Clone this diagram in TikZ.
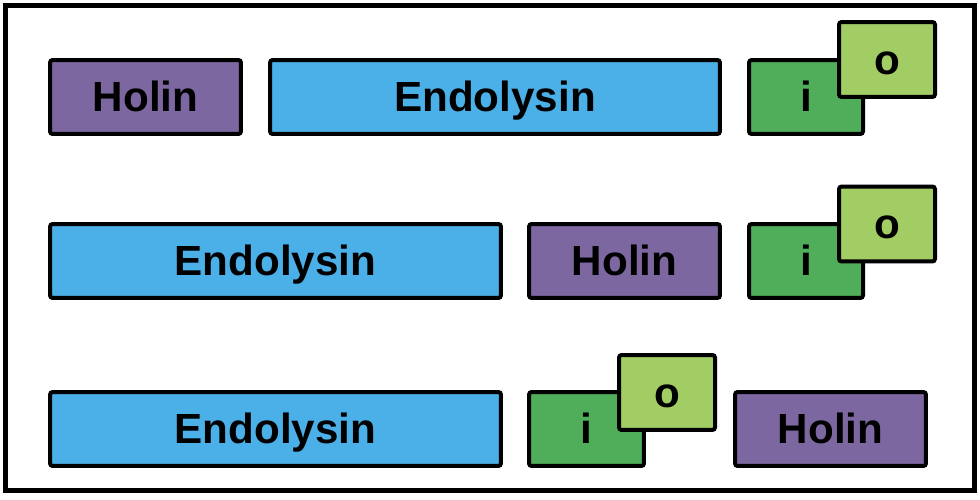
\documentclass[tikz,border=0pt]{standalone}
\usepackage{fontspec}
\setmainfont{Liberation Sans}
\usepackage{xcolor}
\definecolor{holinFill}{HTML}{7D67A0}
\definecolor{endoFill}{HTML}{4BAFE8}
\definecolor{innerFill}{HTML}{50AD5A}
\definecolor{outerFill}{HTML}{A2CC64}

\begin{document}
\begin{tikzpicture}[x=0.02cm, y=-0.02cm,
    genebox/.style={draw=black, line width=0.08cm, rounded corners=1.5pt,
      inner sep=0pt, minimum height=1.48cm, text height=17pt, text depth=0pt,
      font=\fontsize{24}{28}\selectfont\bfseries},
    holin/.style={genebox, fill=holinFill, minimum width=3.82cm},
    endolysin/.style={genebox, fill=endoFill, minimum width=9.02cm},
    spanin/.style={genebox, fill=innerFill, minimum width=2.28cm},
    ospanin/.style={genebox, fill=outerFill, minimum width=1.92cm, minimum height=1.5cm}]
  % frame
  \fill[white] (0,0) rectangle (980,500);
  \draw[line width=0.1cm] (5.5,5.5) rectangle (974,490);
  % first row
  \node[holin] (holinA) at (145.5,97) {Holin};
  \node[endolysin, minimum width=9.0cm] (endoA) at (495,97) {Endolysin};
  \node[spanin] (innerA) at (806,97) {i};
  \node[ospanin] (outerA) at (887,59.5) {o};
  % second row
  \node[endolysin] (endoB) at (275.5,261) {Endolysin};
  \node[holin] (holinB) at (624.5,261) {Holin};
  \node[spanin] (innerB) at (806,261) {i};
  \node[ospanin] (outerB) at (887,224) {o};
  % third row
  \node[endolysin] (endoC) at (275.5,429) {Endolysin};
  \node[spanin, minimum width=2.3cm] (innerC) at (586.5,429) {i};
  \node[ospanin] (outerC) at (667,392.5) {o};
  \node[holin] (holinC) at (830.5,429) {Holin};
\end{tikzpicture}
\end{document}
